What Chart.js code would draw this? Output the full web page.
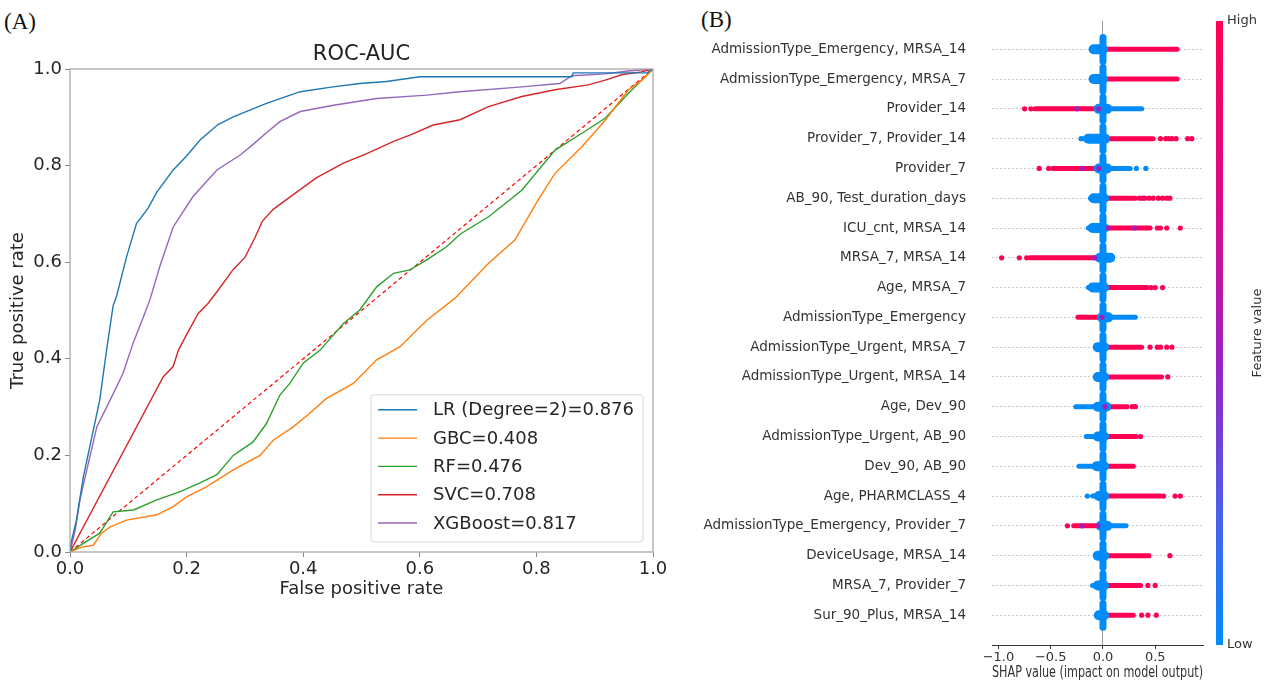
<!DOCTYPE html>
<html>
<head>
<meta charset="utf-8">
<script src="https://cdn.jsdelivr.net/npm/chart.js@4.4.0/dist/chart.umd.min.js"></script>
<style>
body{margin:0;background:#fff;width:1271px;height:682px;position:relative;overflow:hidden;font-family:"DejaVu Sans",sans-serif}
.panel{position:absolute;top:0;height:682px}
#rocBox{left:0;width:680px}
#shapBox{left:680px;width:591px}
.tag{position:absolute;font-family:"Liberation Serif",serif;font-size:23px;color:#111;line-height:1}
</style>
</head>
<body>
<div class="tag" style="left:4px;top:10px">(A)</div>
<div class="tag" style="left:701px;top:8px">(B)</div>
<div class="panel" id="rocBox"><canvas id="roc"></canvas></div>
<div class="panel" id="shapBox"><canvas id="shap"></canvas></div>
<script>
// ---- panel A: ROC curves (fpr, tpr) ----
const modelNames = ['LR (Degree=2)', 'GBC', 'RF', 'SVC', 'XGBoost'];
const aucValues = [0.876, 0.408, 0.476, 0.708, 0.817];
const modelColors = ['#1f77b4', '#ff7f0e', '#2ca02c', '#d62728', '#9467bd'];

const lrCurve = [[0,0],[0.002,0.02],[0.011,0.066],[0.023,0.156],[0.034,0.218],[0.051,0.315],[0.063,0.42],[0.074,0.51],[0.080,0.53],[0.097,0.611],[0.114,0.680],[0.134,0.712],[0.149,0.745],[0.177,0.791],[0.200,0.82],[0.223,0.853],[0.254,0.885],[0.280,0.901],[0.337,0.929],[0.395,0.953],[0.451,0.963],[0.497,0.970],[0.543,0.974],[0.600,0.984],[0.861,0.984],[0.863,0.992],[0.990,0.992],[1,1]];
const gbcCurve = [[0,0],[0.02,0.01],[0.04,0.014],[0.054,0.039],[0.069,0.052],[0.097,0.066],[0.149,0.077],[0.177,0.094],[0.200,0.114],[0.234,0.135],[0.280,0.170],[0.326,0.200],[0.349,0.232],[0.383,0.259],[0.406,0.282],[0.440,0.318],[0.486,0.349],[0.526,0.398],[0.566,0.425],[0.612,0.480],[0.660,0.525],[0.718,0.598],[0.763,0.646],[0.803,0.729],[0.832,0.784],[0.878,0.839],[0.918,0.894],[0.958,0.957],[0.981,0.977],[1,1]];
const rfCurve = [[0,0],[0.023,0.018],[0.051,0.039],[0.074,0.083],[0.109,0.087],[0.149,0.108],[0.189,0.125],[0.223,0.143],[0.252,0.160],[0.280,0.200],[0.314,0.228],[0.337,0.266],[0.360,0.325],[0.377,0.349],[0.400,0.391],[0.429,0.418],[0.469,0.473],[0.497,0.501],[0.526,0.549],[0.555,0.577],[0.583,0.584],[0.612,0.605],[0.646,0.632],[0.669,0.658],[0.718,0.694],[0.775,0.749],[0.832,0.832],[0.878,0.867],[0.918,0.898],[0.958,0.950],[0.981,0.977],[1,1]];
const svcCurve = [[0,0],[0.160,0.363],[0.177,0.384],[0.186,0.418],[0.200,0.450],[0.220,0.494],[0.237,0.515],[0.254,0.542],[0.280,0.585],[0.300,0.610],[0.317,0.650],[0.330,0.685],[0.349,0.710],[0.383,0.740],[0.423,0.775],[0.469,0.805],[0.509,0.825],[0.555,0.850],[0.583,0.863],[0.623,0.884],[0.669,0.895],[0.718,0.922],[0.775,0.943],[0.832,0.957],[0.889,0.967],[0.918,0.977],[0.946,0.988],[0.98,0.994],[1,1]];
const xgbCurve = [[0,0],[0.009,0.046],[0.017,0.108],[0.034,0.197],[0.046,0.259],[0.069,0.315],[0.091,0.370],[0.109,0.435],[0.126,0.487],[0.137,0.522],[0.154,0.591],[0.177,0.673],[0.211,0.736],[0.252,0.791],[0.292,0.822],[0.315,0.845],[0.337,0.868],[0.36,0.891],[0.395,0.912],[0.452,0.925],[0.526,0.939],[0.612,0.946],[0.669,0.953],[0.775,0.963],[0.84,0.97],[0.861,0.986],[0.918,0.990],[0.957,0.996],[1,1]];
const chanceLine = [[0,0],[1,1]];
const rocTicks = [0, 0.2, 0.4, 0.6, 0.8, 1.0];

// ---- panel B: SHAP summary, one row per feature ----
const features = ['AdmissionType_Emergency, MRSA_14','AdmissionType_Emergency, MRSA_7','Provider_14','Provider_7, Provider_14','Provider_7','AB_90, Test_duration_days','ICU_cnt, MRSA_14','MRSA_7, MRSA_14','Age, MRSA_7','AdmissionType_Emergency','AdmissionType_Urgent, MRSA_7','AdmissionType_Urgent, MRSA_14','Age, Dev_90','AdmissionType_Urgent, AB_90','Dev_90, AB_90','Age, PHARMCLASS_4','AdmissionType_Emergency, Provider_7','DeviceUsage, MRSA_14','MRSA_7, Provider_7','Sur_90_Plus, MRSA_14'];
// dense cluster of points around zero
const coreSpan = [[-0.09,0.0],[-0.09,0.0],[-0.04,0.04],[-0.14,0.02],[-0.04,0.04],[-0.09,0.01],[-0.10,0.01],[-0.03,0.07],[-0.10,0.01],[-0.01,0.05],[-0.05,0.01],[-0.05,0.01],[-0.05,0.03],[-0.05,0.01],[-0.06,0.01],[-0.04,0.01],[-0.02,0.04],[-0.05,0.01],[-0.05,0.01],[-0.04,0.01]];
// spread of low feature values (blue)
const lowSpan = [[-0.09,0],[-0.09,0],[0,0.37],[-0.19,0],[0,0.26],[-0.12,0],[-0.14,0],[-0.05,0.07],[-0.14,0],[0,0.31],[-0.06,0],[-0.06,0],[-0.26,0],[-0.16,0],[-0.23,0],[-0.10,0],[0,0.22],[-0.07,0],[-0.10,0],[-0.05,0]];
// spread of high feature values (red)
const highSpan = [[0.01,0.71],[0.01,0.71],[-0.65,-0.03],[0.02,0.48],[-0.48,-0.03],[0.02,0.31],[0.02,0.45],[-0.70,-0.05],[0.02,0.42],[-0.24,-0.01],[0.02,0.37],[0.02,0.56],[0.02,0.23],[0.02,0.32],[0.02,0.29],[0.02,0.55],[-0.28,-0.03],[0.02,0.44],[0.02,0.36],[0.02,0.29]];
// isolated points
const highDots = [[],[],[-0.75,-0.69],[0.55,0.60,0.63,0.66,0.70,0.81,0.85],[-0.61,-0.52],[0.35,0.40,0.44,0.48,0.53,0.57,0.61,0.64],[0.52,0.55,0.61,0.74],[-0.97,-0.80,-0.73],[0.46,0.50,0.57],[],[0.45,0.52,0.55,0.61,0.66],[0.62],[0.28,0.31],[0.36],[],[0.58,0.69,0.74],[-0.34],[0.64],[0.43,0.50],[0.37,0.43,0.51]];
const lowDots = [[],[],[],[-0.21],[0.32,0.41],[],[],[],[],[],[],[],[],[],[],[-0.15],[],[],[],[]];
const midDots = [[],[],[-0.25,-0.04],[],[-0.2,-0.04],[0.38],[0.05,0.3],[-0.08],[],[-0.01],[],[],[0.02],[],[],[],[-0.2,-0.05],[],[],[]];
const shapTicks = [-1.0, -0.5, 0.0, 0.5];

Chart.defaults.font.family = '"DejaVu Sans", sans-serif';

const RED = '#ff0052', BLUE = '#008bfb', PURPLE = '#a31fb4';
const pts = a => a.map(([x, y]) => ({ x, y }));

// ---------- ROC chart ----------
const rocCurves = [lrCurve, gbcCurve, rfCurve, svcCurve, xgbCurve];
const rocSets = rocCurves.map((c, i) => ({
  label: modelNames[i] + '=' + aucValues[i].toFixed(3),
  inLegend: true,
  data: pts(c),
  showLine: true,
  borderColor: modelColors[i],
  borderWidth: 1.4,
  pointRadius: 0,
  tension: 0
}));
rocSets.push({
  label: 'chance',
  data: pts(chanceLine),
  showLine: true,
  borderColor: '#ff0000',
  borderWidth: 1.2,
  borderDash: [4, 3],
  pointRadius: 0
});

const rocDecor = {
  id: 'rocDecor',
  afterDraw(chart) {
    const { ctx, chartArea: a } = chart;
    ctx.save();
    // frame
    ctx.strokeStyle = '#aaa';
    ctx.lineWidth = 1.3;
    ctx.strokeRect(a.left, a.top, a.right - a.left, a.bottom - a.top);
    // title
    ctx.fillStyle = '#222';
    ctx.font = '21px "DejaVu Sans"';
    ctx.textAlign = 'center';
    ctx.textBaseline = 'middle';
    ctx.fillText('ROC-AUC', (a.left + a.right) / 2, a.top - 14);
    // legend
    const items = chart.data.datasets.filter(d => d.inLegend);
    ctx.font = '18px "DejaVu Sans"';
    const textW = Math.max(...items.map(d => ctx.measureText(d.label).width));
    const rowH = 28.3;
    const w = 62 + textW + 9, h = (items.length - 1) * rowH + 34;
    const x = a.right - 10 - w, y = a.bottom - 10 - h;
    ctx.fillStyle = 'rgba(255,255,255,0.85)';
    ctx.strokeStyle = '#d8d8d8';
    ctx.lineWidth = 1;
    ctx.beginPath();
    if (ctx.roundRect) ctx.roundRect(x, y, w, h, 3); else ctx.rect(x, y, w, h);
    ctx.fill();
    ctx.stroke();
    ctx.textAlign = 'left';
    items.forEach((d, i) => {
      const cy = y + 15 + i * rowH;
      ctx.strokeStyle = d.borderColor;
      ctx.lineWidth = 1.4;
      ctx.beginPath();
      ctx.moveTo(x + 7, cy);
      ctx.lineTo(x + 46, cy);
      ctx.stroke();
      ctx.fillStyle = '#262626';
      ctx.fillText(d.label, x + 62, cy + 1);
    });
    ctx.restore();
  }
};

new Chart(document.getElementById('roc'), {
  type: 'scatter',
  data: { datasets: rocSets },
  options: {
    responsive: true,
    maintainAspectRatio: false,
    animation: false,
    events: [],
    layout: { padding: { left: 0, right: 27, top: 69, bottom: 80 } },
    plugins: { legend: { display: false }, tooltip: { enabled: false } },
    scales: {
      x: {
        min: 0, max: 1,
        afterBuildTicks: s => { s.ticks = rocTicks.map(v => ({ value: v })); },
        afterFit: s => { s.height = 50; },
        ticks: { font: { size: 18 }, color: '#262626', padding: 2, maxRotation: 0, callback: v => v.toFixed(1) },
        grid: { drawOnChartArea: false, tickLength: 5, tickColor: '#888' },
        border: { display: false },
        title: { display: true, text: 'False positive rate', font: { size: 18 }, color: '#262626', padding: { top: 0, bottom: 2 } }
      },
      y: {
        min: 0, max: 1,
        afterBuildTicks: s => { s.ticks = rocTicks.map(v => ({ value: v })); },
        afterFit: s => { s.width = 70; },
        ticks: { font: { size: 18 }, color: '#262626', padding: 3, callback: v => v.toFixed(1) },
        grid: { drawOnChartArea: false, tickLength: 5, tickColor: '#888' },
        border: { display: false },
        title: { display: true, text: 'True positive rate', font: { size: 18 }, color: '#262626', padding: { top: 8, bottom: 0 } }
      }
    }
  },
  plugins: [rocDecor]
});

// ---------- SHAP chart ----------
const SPINE = 0.4;
const shapSets = [];
const span = (s, r, color, width, order) => ({
  data: [{ x: s[0], y: r }, { x: s[1], y: r }],
  showLine: true, borderColor: color, borderWidth: width, borderCapStyle: 'round',
  pointRadius: 0, order
});
features.forEach((f, r) => {
  shapSets.push(span(lowSpan[r], r, BLUE, 5, 4));
  shapSets.push(span(highSpan[r], r, RED, 5, 3));
  shapSets.push(span(coreSpan[r], r, BLUE, 10, 2));
  shapSets.push({
    data: [{ x: 0, y: r - SPINE }, { x: 0, y: r + SPINE }],
    showLine: true, borderColor: BLUE, borderWidth: 7, borderCapStyle: 'round',
    pointRadius: 0, order: 1
  });
});
const dotSet = (list, color) => ({
  data: list.flatMap((xs, r) => xs.map(x => ({ x, y: r }))),
  pointRadius: 2.6, pointBackgroundColor: color, pointBorderWidth: 0, order: 0
});
shapSets.push(dotSet(highDots, RED), dotSet(lowDots, BLUE), dotSet(midDots, PURPLE));

const colorBar = {
  id: 'colorBar',
  afterDraw(chart) {
    const { ctx, chartArea: a } = chart;
    const x = a.right + 13, top = a.top, bot = a.bottom, w = 7;
    ctx.save();
    const g = ctx.createLinearGradient(0, top, 0, bot);
    g.addColorStop(0, '#ff0052');
    g.addColorStop(0.3, '#d80c8a');
    g.addColorStop(0.55, '#9a22c0');
    g.addColorStop(0.78, '#4f5ee8');
    g.addColorStop(1, '#008bfb');
    ctx.fillStyle = g;
    ctx.fillRect(x, top, w, bot - top);
    ctx.fillStyle = '#333';
    ctx.font = '13px "DejaVu Sans"';
    ctx.textAlign = 'left';
    ctx.textBaseline = 'middle';
    ctx.fillText('High', x + w + 4, top);
    ctx.fillText('Low', x + w + 4, bot);
    ctx.translate(x + w + 35, (top + bot) / 2);
    ctx.rotate(-Math.PI / 2);
    ctx.textAlign = 'center';
    ctx.fillText('Feature value', 0, 0);
    ctx.restore();
  }
};

new Chart(document.getElementById('shap'), {
  type: 'scatter',
  data: { datasets: shapSets },
  options: {
    responsive: true,
    maintainAspectRatio: false,
    animation: false,
    events: [],
    layout: { padding: { left: 0, right: 68, top: 21, bottom: 0 } },
    plugins: { legend: { display: false }, tooltip: { enabled: false } },
    scales: {
      x: {
        min: -1.062, max: 0.957,
        afterBuildTicks: s => { s.ticks = shapTicks.map(v => ({ value: v })); },
        afterFit: s => { s.height = 37; s.paddingLeft = 0; s.paddingRight = 0; },
        ticks: { font: { size: 13 }, color: '#333', padding: 1, maxRotation: 0, callback: v => v.toFixed(1).replace('-', '\u2212') },
        grid: { color: c => (c.tick && c.tick.value === 0) ? '#999' : 'rgba(0,0,0,0)', tickColor: '#333', tickLength: 4 },
        border: { display: true, color: '#333' },
        title: { display: true, text: 'SHAP value (impact on model output)', font: { size: 15.5 }, color: '#333', padding: { top: 0, bottom: 0 } }
      },
      y: {
        min: -0.95, max: 20, reverse: true,
        afterBuildTicks: s => { s.ticks = features.map((f, i) => ({ value: i })); },
        afterFit: s => { s.width = 312; s.paddingTop = 0; s.paddingBottom = 0; },
        ticks: { font: { size: 13.5 }, color: '#333', padding: 26, autoSkip: false, callback: v => features[v] },
        grid: { color: '#bbb', drawTicks: false },
        border: { display: false, dash: [1.5, 2.5] }
      }
    }
  },
  plugins: [colorBar]
});
</script>
</body>
</html>
